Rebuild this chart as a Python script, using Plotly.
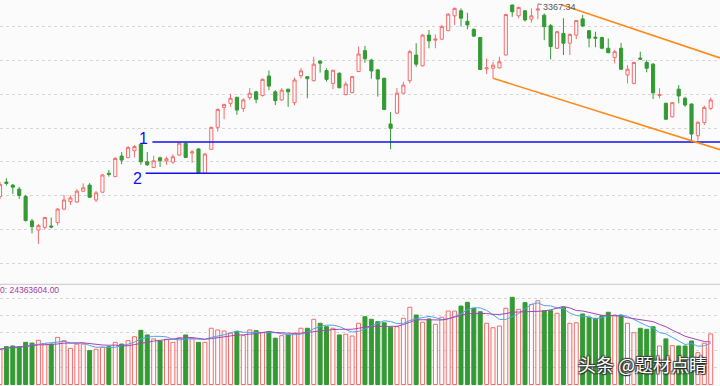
import plotly.graph_objects as go
import pandas as pd

# ---------------- data ----------------
idx = list(range(112))

open_ = [2797, 2840, 2831, 2819, 2797, 2725, 2698, 2706, 2710, 2720,
         2760, 2782, 2781, 2813, 2831, 2787, 2810, 2866, 2856, 2917,
         2912, 2933, 2952, 2900, 2883, 2912, 2903, 2899, 2920, 2955,
         2926, 2938, 2866, 2937, 3002, 3061, 3073, 3091, 3058, 3090,
         3107, 3096, 3154, 3107, 3083, 3115, 3075, 3155, 3152, 3140,
         3198, 3170, 3132, 3162, 3099, 3105, 3167, 3229, 3201, 3172,
         3147, 3012, 3044, 3103, 3140, 3216, 3184, 3275, 3260, 3263,
         3288, 3332, 3347, 3316, 3292, 3268, 3175, 3177, 3178, 3216,
         3364, 3332, 3347, 3322, 3349, 3334, 3303, 3236, 3280, 3251,
         3275, 3323, 3288, 3269, 3268, 3236, 3209, 3236, 3157, 3132,
         3207, 3194, 3189, 3096, 3073, 3033, 3115, 3088, 3071, 2977,
         3016, 3058]
high = [2840, 2851, 2834, 2826, 2802, 2731, 2716, 2737, 2735, 2763,
        2802, 2801, 2819, 2836, 2837, 2814, 2864, 2876, 2914, 2929,
        2947, 2950, 2955, 2929, 2918, 2915, 2915, 2922, 2956, 2957,
        2935, 2940, 2926, 3004, 3058, 3071, 3101, 3092, 3088, 3118,
        3110, 3147, 3170, 3112, 3118, 3116, 3149, 3177, 3154, 3211,
        3200, 3177, 3172, 3165, 3137, 3154, 3241, 3243, 3205, 3175,
        3149, 3047, 3118, 3137, 3231, 3251, 3278, 3290, 3277, 3305,
        3340, 3357, 3354, 3341, 3295, 3269, 3206, 3196, 3211, 3338,
        3365, 3359, 3349, 3354, 3367.34, 3339, 3308, 3288, 3325, 3280,
        3320, 3335, 3290, 3285, 3270, 3265, 3231, 3252, 3186, 3196,
        3226, 3201, 3192, 3118, 3075, 3077, 3127, 3093, 3073, 3019,
        3066, 3090]
low = [2790, 2830, 2805, 2790, 2723, 2688, 2657, 2700, 2703, 2712,
       2757, 2772, 2778, 2811, 2793, 2781, 2808, 2856, 2855, 2893,
       2911, 2913, 2891, 2888, 2882, 2885, 2891, 2894, 2917, 2911,
       2897, 2865, 2865, 2935, 2989, 3026, 3063, 3039, 3048, 3083,
       3073, 3093, 3112, 3068, 3081, 3063, 3067, 3147, 3088, 3138,
       3164, 3137, 3115, 3118, 3096, 3102, 3166, 3193, 3146, 3093,
       3053, 2937, 3041, 3101, 3132, 3181, 3182, 3236, 3236, 3260,
       3287, 3305, 3300, 3292, 3269, 3172, 3160, 3147, 3177, 3215,
       3329, 3325, 3315, 3312, 3322, 3260, 3203, 3234, 3216, 3216,
       3263, 3299, 3239, 3239, 3233, 3221, 3191, 3172, 3132, 3129,
       3201, 3165, 3086, 3088, 3024, 3032, 3073, 3063, 2962, 2962,
       3009, 3053]
close = [2833, 2836, 2825, 2800, 2726, 2708, 2711, 2735, 2707, 2760,
         2787, 2793, 2813, 2823, 2795, 2808, 2861, 2863, 2910, 2905,
         2942, 2945, 2900, 2891, 2903, 2903, 2909, 2915, 2955, 2913,
         2929, 2866, 2923, 3002, 3055, 3070, 3088, 3053, 3083, 3103,
         3085, 3144, 3124, 3081, 3112, 3107, 3142, 3169, 3146, 3189,
         3192, 3144, 3171, 3119, 3130, 3152, 3219, 3205, 3169, 3145,
         3055, 2999, 3103, 3127, 3226, 3189, 3275, 3258, 3263, 3300,
         3337, 3354, 3325, 3305, 3272, 3173, 3178, 3186, 3196, 3336,
         3344, 3357, 3320, 3332, 3352, 3300, 3241, 3285, 3251, 3277,
         3318, 3302, 3266, 3266, 3236, 3223, 3226, 3174, 3174, 3194,
         3204, 3177, 3104, 3099, 3026, 3075, 3095, 3068, 2982, 3017,
         3061, 3083]
# volume in millions
volume = [20.5, 22.0, 22.4, 22.0, 24.5, 24.1, 25.7, 23.5, 23.5, 27.4,
          25.5, 21.0, 23.5, 23.5, 19.7, 20.5, 21.6, 22.0, 24.5, 23.5,
          25.5, 27.8, 31.5, 28.8, 26.5, 25.3, 26.3, 24.5, 27.2, 28.8,
          26.5, 24.5, 24.5, 32.7, 31.7, 31.1, 29.8, 30.7, 28.4, 31.7,
          31.3, 30.1, 30.7, 26.9, 28.4, 28.8, 29.8, 32.7, 32.7, 37.9,
          35.6, 33.6, 32.7, 28.8, 29.2, 28.2, 35.6, 39.4, 37.9, 36.5,
          35.9, 33.3, 33.6, 38.5, 44.9, 40.4, 36.2, 38.1, 35.0, 39.1,
          42.7, 42.7, 45.6, 47.8, 44.3, 42.3, 35.6, 33.0, 34.0, 44.3,
          50.7, 43.7, 47.6, 46.6, 48.7, 42.9, 42.9, 41.4, 44.9, 35.6,
          35.9, 41.0, 39.1, 38.5, 40.0, 42.0, 40.4, 40.4, 35.6, 30.1,
          32.7, 32.1, 33.6, 22.4, 26.5, 22.6, 22.4, 22.4, 25.3, 18.5,
          24.0, 29.4]

# drawn support / channel lines (bar index, price)
line1_x = [23.8, 112.45]
line1_y = [2958.6, 2958.6]
line2_x = [22.75, 112.45]
line2_y = [2866.0, 2866.0]
chan_low_x = [77, 112.45]
chan_low_y = [3147.1, 2935.9]
chan_up_x = [87.8, 112.45]
chan_up_y = [3364.1, 3207.5]

high_label = "3367.34"
vol_label = "0: 24363604.00"
price_grid = [2600, 2700, 2800, 2900, 3000, 3100, 3200, 3300]
vol_grid = [10, 20, 30, 40, 50]

# ---------------- styling ----------------
BG = '#fbfbfb'
UP = '#f76b6b'
DN = '#349a34'
BLUE = '#1010f5'
ORANGE = '#ff8a1c'
W, H = 720, 386

ma5 = pd.Series(volume).rolling(5, min_periods=1).mean()
ma10 = pd.Series(volume).rolling(10, min_periods=1).mean()

fig = go.Figure()

fig.add_trace(go.Candlestick(
    x=idx, open=open_, high=high, low=low, close=close,
    increasing=dict(line=dict(color=UP, width=1), fillcolor=BG),
    decreasing=dict(line=dict(color=DN, width=1), fillcolor=DN),
    whiskerwidth=0, hoverinfo='skip', xaxis='x', yaxis='y', showlegend=False))

for xs, ys, col in [(line1_x, line1_y, BLUE), (line2_x, line2_y, BLUE),
                    (chan_low_x, chan_low_y, ORANGE), (chan_up_x, chan_up_y, ORANGE)]:
    fig.add_trace(go.Scatter(x=xs, y=ys, mode='lines', line=dict(color=col, width=1.6),
                             hoverinfo='skip', showlegend=False, xaxis='x', yaxis='y'))

up_flags = [c >= o for o, c in zip(open_, close)]
fig.add_trace(go.Bar(
    x=idx, y=volume, width=0.62, xaxis='x', yaxis='y2',
    marker=dict(color=[BG if u else DN for u in up_flags],
                line=dict(color=[UP if u else DN for u in up_flags], width=1)),
    hoverinfo='skip', showlegend=False))
fig.add_trace(go.Scatter(x=idx, y=ma5, mode='lines', line=dict(color='#4ea6ea', width=1),
                         xaxis='x', yaxis='y2', hoverinfo='skip', showlegend=False))
fig.add_trace(go.Scatter(x=idx, y=ma10, mode='lines', line=dict(color='#a545b5', width=1),
                         xaxis='x', yaxis='y2', hoverinfo='skip', showlegend=False))

def py(pix):
    return 1 - pix / H

fig.update_layout(
    width=W, height=H, margin=dict(l=0, r=0, t=0, b=0),
    paper_bgcolor=BG, plot_bgcolor=BG, barmode='overlay',
    font=dict(family='Liberation Sans, Arial, sans-serif'),
    xaxis=dict(range=[0, 112.45], visible=False, rangeslider=dict(visible=False),
               anchor='y2', fixedrange=True),
    yaxis=dict(domain=[py(270), 1], range=[2579.7, 3378.9], tickvals=price_grid,
               showticklabels=False, ticks='', showgrid=True, gridcolor='#d6d6d6',
               griddash='dot', gridwidth=1, zeroline=False, showline=False),
    yaxis2=dict(domain=[0, py(285)], range=[-0.87, 57.85], tickvals=vol_grid,
                showticklabels=False, ticks='', showgrid=True, gridcolor='#d6d6d6',
                griddash='dot', gridwidth=1, zeroline=False, showline=False),
    shapes=[dict(type='line', xref='paper', yref='paper', x0=0, x1=1,
                 y0=py(284.3), y1=py(284.3), line=dict(color='#d2d2d2', width=1.2))],
    annotations=[
        dict(x=22.44, y=2969, xref='x', yref='y', text='1', showarrow=False,
             font=dict(size=16, color=BLUE)),
        dict(x=21.47, y=2851, xref='x', yref='y', text='2', showarrow=False,
             font=dict(size=16, color=BLUE)),
        dict(x=84, y=3367.34, xref='x', yref='y', text=high_label, showarrow=True,
             arrowhead=0, arrowwidth=1, arrowcolor='#777', ax=22, ay=3,
             font=dict(size=9, color='#555')),
        dict(x=0, y=py(290), xref='paper', yref='paper', text=vol_label, showarrow=False,
             xanchor='left', yanchor='middle', xshift=-2,
             font=dict(size=8.5, color='#a040a8')),
        dict(x=642 / W, y=py(364), xref='paper', yref='paper', text='头条 @题材点睛',
             showarrow=False, xanchor='center', yanchor='middle',
             font=dict(size=18, color='white', family='Noto Sans CJK SC',
                       shadow='1px 1px 1px #222, -1px -1px 1px #444, 1px -1px 1px #444, -1px 1px 1px #444')),
    ],
)

fig.write_html("out.html")
